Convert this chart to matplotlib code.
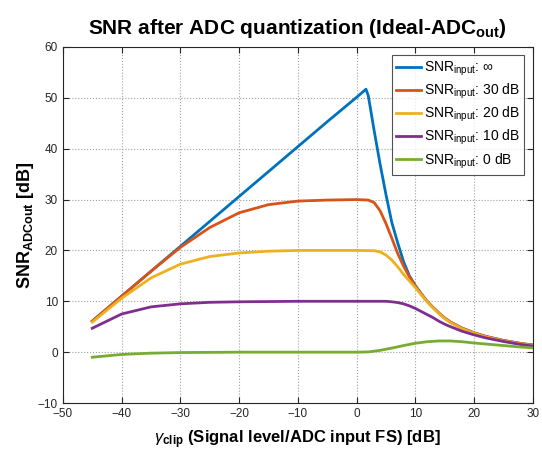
import matplotlib.pyplot as plt

plt.rcParams['font.family'] = ['Liberation Sans', 'DejaVu Sans']
plt.rcParams['mathtext.fontset'] = 'custom'
plt.rcParams['mathtext.rm'] = 'Liberation Sans'
plt.rcParams['mathtext.it'] = 'Liberation Sans:italic'
plt.rcParams['mathtext.bf'] = 'Liberation Sans:bold'

# SNR_input = inf
x_inf = [-45, -40, -35, -30, -25, -20, -15, -10, -5, 0, 1.6, 2.0, 3, 4, 5, 6, 7, 8, 9, 10,
         11, 12, 13, 14, 15, 16, 18, 20, 22, 25, 28, 30]
y_inf = [6.1, 11.0, 15.9, 20.8, 25.7, 30.6, 35.5, 40.4, 45.3, 50.1, 51.7, 50.4, 43.5, 37.0, 31.0,
         25.5, 21.5, 17.8, 15.0, 13.1, 11.5, 10.0, 8.8, 7.7, 6.7, 5.9, 4.7, 3.8, 3.1, 2.3, 1.7, 1.4]
# SNR_input = 30 dB
x_30 = [-45, -40, -35, -30, -25, -20, -15, -10, -5, 0, 2, 3, 4, 5, 6, 7, 8, 9, 10,
        11, 12, 13, 14, 15, 16, 18, 20, 22, 25, 28, 30]
y_30 = [6.1, 11.0, 15.9, 20.6, 24.5, 27.4, 29.0, 29.7, 29.9, 30.0, 29.9, 29.4, 27.8, 25.3, 22.4,
        19.4, 16.9, 14.8, 13.0, 11.45, 10.0, 8.8, 7.7, 6.7, 5.9, 4.7, 3.8, 3.1, 2.3, 1.7, 1.4]
# SNR_input = 20 dB
x_20 = [-45, -40, -35, -30, -25, -20, -15, -10, -5, 0, 3, 4, 5, 6, 7, 8, 9, 10,
        11, 12, 13, 14, 15, 16, 18, 20, 22, 25, 28, 30]
y_20 = [5.9, 10.6, 14.6, 17.3, 18.8, 19.5, 19.85, 20.0, 20.0, 20.0, 19.95, 19.7, 19.1, 18.1, 16.8,
        15.3, 14.0, 12.7, 11.3, 9.9, 8.7, 7.6, 6.6, 5.8, 4.6, 3.7, 3.0, 2.2, 1.6, 1.3]
# SNR_input = 10 dB
x_10 = [-45, -40, -35, -30, -25, -20, -10, 0, 5, 6, 7, 8, 9, 10,
        11, 12, 13, 14, 15, 16, 18, 20, 22, 25, 28, 30]
y_10 = [4.7, 7.5, 8.9, 9.5, 9.8, 9.9, 10.0, 10.0, 10.0, 9.9, 9.75, 9.5, 9.1, 8.6,
        8.0, 7.4, 6.8, 6.1, 5.5, 5.0, 4.1, 3.4, 2.8, 2.1, 1.5, 1.2]
# SNR_input = 0 dB
x_0 = [-45, -40, -35, -30, -20, -10, 0, 2, 4, 6, 8, 10, 12, 14, 16, 18, 20, 22, 25, 28, 30]
y_0 = [-1.0, -0.45, -0.2, -0.08, 0.0, 0.0, 0.0, 0.05, 0.35, 0.8, 1.3, 1.75, 2.05, 2.2, 2.2,
       2.05, 1.8, 1.6, 1.3, 1.0, 0.85]

labels = [r'SNR$_{\mathrm{input}}$: $\infty$', r'SNR$_{\mathrm{input}}$: 30 dB',
          r'SNR$_{\mathrm{input}}$: 20 dB', r'SNR$_{\mathrm{input}}$: 10 dB',
          r'SNR$_{\mathrm{input}}$: 0 dB']

fig = plt.figure(figsize=(5.42, 4.5), dpi=100)
ax = fig.add_axes([0.116, 0.1044, 0.867, 0.7912])

ax.plot(x_inf, y_inf, c='#0072BD', lw=2, label=labels[0])
ax.plot(x_30, y_30, c='#D95319', lw=2, label=labels[1])
ax.plot(x_20, y_20, c='#EDB120', lw=2, label=labels[2])
ax.plot(x_10, y_10, c='#7E2F8E', lw=2, label=labels[3])
ax.plot(x_0, y_0, c='#77AC30', lw=2, label=labels[4])

ax.set_xlim([-50, 30])
ax.set_ylim([-10, 60])
ax.set_xticks(range(-50, 31, 10))
ax.set_yticks(range(-10, 61, 10))
ax.grid(True, ls=':', c='#a0a0a0', lw=0.8)
ax.tick_params(direction='in', top=True, right=True, labelsize=8.5, colors='#262626', length=4)
for s in ax.spines.values():
    s.set_color('#262626')

ax.set_title(r'SNR after ADC quantization (Ideal-ADC$_{\mathbf{out}}$)', fontsize=15, fontweight='bold', pad=9)
ax.set_xlabel(r'$\gamma_{\mathbf{clip}}$ (Signal level/ADC input FS) [dB]', fontsize=12, fontweight='bold', labelpad=6)
ax.set_ylabel(r'SNR$_{\mathbf{ADCout}}$ [dB]', fontsize=13, fontweight='bold', labelpad=1)

leg = ax.legend(loc='upper right', fontsize=10, fancybox=False, edgecolor='#262626',
                handlelength=1.8, borderaxespad=0.6, labelspacing=0.28, handletextpad=0.2,
                borderpad=0.3)
leg.get_frame().set_linewidth(0.8)

plt.savefig('out.png')
